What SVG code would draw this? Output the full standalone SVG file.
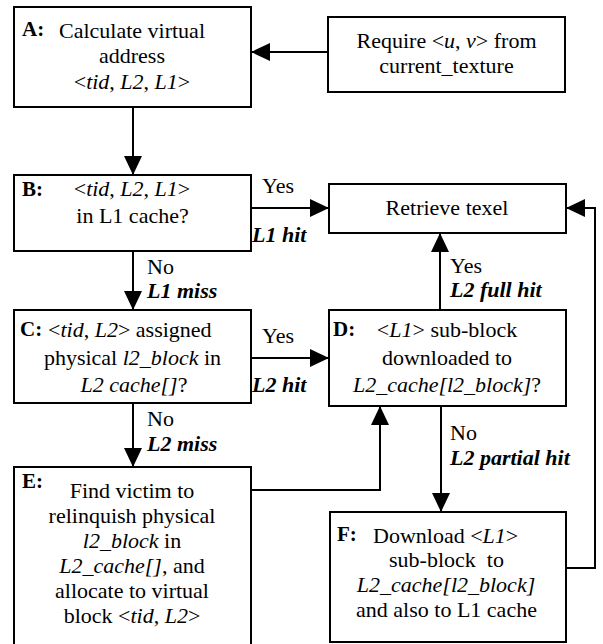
<svg xmlns="http://www.w3.org/2000/svg" width="603" height="644" viewBox="0 0 603 644" font-family="'Liberation Serif', 'Times New Roman', Times, 'DejaVu Serif', serif" font-size="22">
<style>
text { fill: #000; }
.m { text-anchor: middle; }
.lb { font-weight: bold; font-size: 21px; }
.i { font-style: italic; }
.bi { font-weight: bold; font-style: italic; }
.box { fill: #fff; stroke: #000; stroke-width: 2; }
.c { fill: none; stroke: #000; stroke-width: 2; }
</style>
<defs>
<marker id="ah" markerUnits="userSpaceOnUse" markerWidth="20" markerHeight="18" refX="19" refY="9" orient="auto">
<path d="M0,0 L19,9 L0,18 z" fill="#000"/>
</marker>
</defs>
<rect width="603" height="644" fill="#fff"/>
<g id="connectors">
<line class="c" x1="328" y1="52" x2="251" y2="52" marker-end="url(#ah)"/>
<line class="c" x1="133" y1="107" x2="133" y2="175" marker-end="url(#ah)"/>
<line class="c" x1="251" y1="208" x2="329" y2="208" marker-end="url(#ah)"/>
<line class="c" x1="133" y1="251" x2="133" y2="310" marker-end="url(#ah)"/>
<line class="c" x1="251" y1="358" x2="329" y2="358" marker-end="url(#ah)"/>
<line class="c" x1="440" y1="310" x2="440" y2="233" marker-end="url(#ah)"/>
<line class="c" x1="133" y1="403" x2="133" y2="467" marker-end="url(#ah)"/>
<polyline class="c" points="251,490 380,490 380,406" marker-end="url(#ah)"/>
<line class="c" x1="441" y1="406" x2="441" y2="512" marker-end="url(#ah)"/>
<polyline class="c" points="566,568 595,568 595,208 566,208" marker-end="url(#ah)"/>
<text x="262" y="193">Yes</text>
<text x="252" y="242" class="bi">L1 hit</text>
<text x="147" y="274">No</text>
<text x="147" y="298" class="bi">L1 miss</text>
<text x="262" y="343">Yes</text>
<text x="252" y="392" class="bi">L2 hit</text>
<text x="450" y="273">Yes</text>
<text x="450" y="297" class="bi">L2 full hit</text>
<text x="147" y="426">No</text>
<text x="147" y="451" class="bi">L2 miss</text>
<text x="450" y="440">No</text>
<text x="450" y="465" class="bi">L2 partial hit</text>
</g>
<g id="nodeA">
<rect class="box" x="14" y="7" width="237" height="100"/>
<text x="22" y="36" class="lb">A:</text>
<text x="132" y="38" class="m">Calculate virtual</text>
<text x="132" y="63" class="m">address</text>
<text x="132" y="89" class="m">&lt;<tspan class="i">tid</tspan>, <tspan class="i">L2</tspan>, <tspan class="i">L1</tspan>&gt;</text>
</g>
<g id="nodeReq">
<rect class="box" x="328" y="17" width="237" height="75"/>
<text x="446.5" y="48" class="m">Require &lt;<tspan class="i">u</tspan>, <tspan class="i">v</tspan>&gt; from</text>
<text x="446.5" y="73" class="m">current_texture</text>
</g>
<g id="nodeB">
<rect class="box" x="14" y="175" width="237" height="76"/>
<text x="22" y="196" class="lb">B:</text>
<text x="132" y="196" class="m">&lt;<tspan class="i">tid</tspan>, <tspan class="i">L2</tspan>, <tspan class="i">L1</tspan>&gt;</text>
<text x="132.5" y="223" class="m">in L1 cache?</text>
</g>
<g id="nodeRetrieve">
<rect class="box" x="329" y="184" width="237" height="49"/>
<text x="447" y="215" class="m">Retrieve texel</text>
</g>
<g id="nodeC">
<rect class="box" x="14" y="310" width="237" height="93"/>
<text x="20" y="336" class="lb">C:</text>
<text x="48" y="337">&lt;<tspan class="i">tid</tspan>, <tspan class="i">L2</tspan>&gt; assigned</text>
<text x="132.5" y="365" class="m">physical <tspan class="i">l2_block</tspan> in</text>
<text x="134" y="392" class="m"><tspan class="i">L2 cache[]</tspan>?</text>
</g>
<g id="nodeD">
<rect class="box" x="329" y="310" width="237" height="96"/>
<text x="333" y="336" class="lb">D:</text>
<text x="447" y="337" class="m">&lt;<tspan class="i">L1</tspan>&gt; sub-block</text>
<text x="447" y="365" class="m">downloaded to</text>
<text x="447" y="392" class="m"><tspan class="i">L2_cache[l2_block]</tspan>?</text>
</g>
<g id="nodeE">
<rect class="box" x="14" y="467" width="237" height="190"/>
<text x="22" y="488" class="lb">E:</text>
<text x="132" y="498" class="m">Find victim to</text>
<text x="132" y="523" class="m">relinquish physical</text>
<text x="132" y="548" class="m"><tspan class="i">l2_block</tspan> in</text>
<text x="132" y="573" class="m"><tspan class="i">L2_cache[]</tspan>, and</text>
<text x="132" y="598" class="m">allocate to virtual</text>
<text x="132" y="623" class="m">block &lt;<tspan class="i">tid</tspan>, <tspan class="i">L2</tspan>&gt;</text>
</g>
<g id="nodeF">
<rect class="box" x="330" y="512" width="236" height="130"/>
<text x="337" y="541" class="lb">F:</text>
<text x="373" y="543">Download &lt;<tspan class="i">L1</tspan>&gt;</text>
<text x="446.5" y="567" class="m" xml:space="preserve">sub-block  to</text>
<text x="446" y="592" class="m"><tspan class="i">L2_cache[l2_block]</tspan></text>
<text x="446.5" y="617" class="m">and also to L1 cache</text>
</g>
</svg>
